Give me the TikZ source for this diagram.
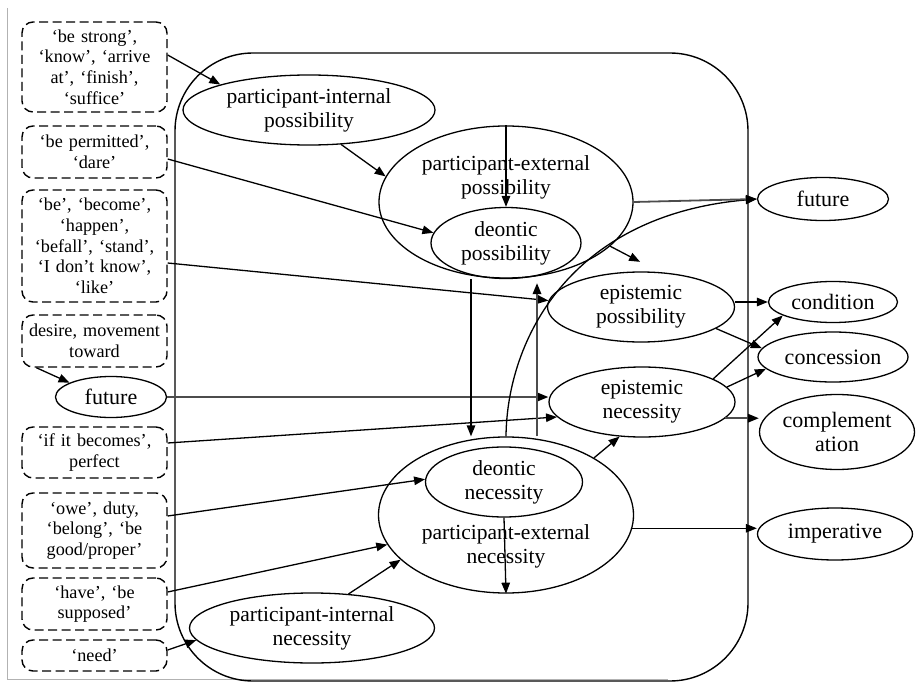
\documentclass[tikz,border=0pt]{standalone}
\usepackage{fontspec}
\setmainfont{Liberation Serif}
\usetikzlibrary{arrows.meta,shapes.geometric,calc}
\begin{document}
\begin{tikzpicture}[x=1pt,y=-1pt,
  arr/.style={line width=1.3pt,-{Triangle[length=11pt,width=8.5pt]}},
  garr/.style={draw=black!70,line width=1.8pt,-{Triangle[length=11pt,width=8.5pt,color=black]}},
  ell/.style={draw,ellipse,line width=1.3pt,inner sep=0pt,align=center,font=\fontsize{21.5}{24}\selectfont},
  etext/.style={inner sep=0pt,align=center,font=\fontsize{21.5}{24}\selectfont},
  rell/.style={draw,ellipse,line width=1.3pt,inner sep=0pt,align=center,font=\fontsize{22}{24}\selectfont},
  dbox/.style={draw,line width=1.4pt,dash pattern=on 9pt off 4.5pt,rounded corners=11pt,
    minimum width=145pt,text width=140pt,align=center,inner sep=0pt,
    font=\fontsize{18.2}{20.7}\selectfont}]
\useasboundingbox (0,0) rectangle (916,682);
% page frame
\draw[black!30,line width=1pt] (7,8) -- (7,679.5) -- (668,679.5);
% container
\draw[line width=1.4pt,rounded corners=78pt] (175,53) rectangle (748,681);
% left dashed boxes
\node[dbox,minimum height=90pt] (b1) at (94.5,67) {‘be strong’,\\ ‘know’, ‘arrive\\ at’, ‘finish’,\\ ‘suffice’};
\node[dbox,minimum height=52pt] (b2) at (94.5,152) {‘be permitted’,\\ ‘dare’};
\node[dbox,minimum height=112pt] (b3) at (94.5,246) {‘be’, ‘become’,\\ ‘happen’,\\ ‘befall’, ‘stand’,\\ ‘I don’t know’,\\ ‘like’};
\node[dbox,minimum height=52pt] (b4) at (94.5,341) {desire, movement\\ toward};
\node[dbox,minimum height=51pt] (b5) at (94.5,452.5) {‘if it becomes’,\\ perfect};
\node[dbox,minimum height=75pt] (b6) at (94.5,530.5) {‘owe’, duty,\\ ‘belong’, ‘be\\ good/proper’};
\node[dbox,minimum height=52pt] (b7) at (94.5,604) {‘have’, ‘be\\ supposed’};
\node[dbox,minimum height=31pt] (b8) at (94.5,655.5) {‘need’};
\node[rell,minimum width=111pt,minimum height=41pt] (futL) at (111,397) {future};
% central ellipses
\node[ell,minimum width=252pt,minimum height=70pt] (pip) at (309,110) {participant-internal\\possibility};
\node[ell,minimum width=254pt,minimum height=152pt] (pep) at (506,202) {};
\node[etext] (peptxt) at (506,177) {participant-external\\possibility};
\node[ell,minimum width=150pt,minimum height=71pt] (dp) at (506,243) {deontic\\possibility};
\node[ell,minimum width=187pt,minimum height=70pt] (epo) at (641,307) {epistemic\\possibility};
\node[ell,minimum width=186pt,minimum height=70pt] (en) at (642,402) {epistemic\\necessity};
\node[ell,minimum width=255pt,minimum height=156pt] (pen) at (506,515) {};
\node[etext] (pentxt) at (506,546) {participant-external\\necessity};
\node[ell,minimum width=157pt,minimum height=70pt] (dn) at (504,482) {deontic\\necessity};
\node[ell,minimum width=245pt,minimum height=70pt] (pin) at (312,628) {participant-internal\\necessity};
% right ellipses
\node[rell,minimum width=131pt,minimum height=43pt] (fut) at (823,199) {future};
\node[rell,minimum width=129pt,minimum height=41pt] (cond) at (833,302) {condition};
\node[rell,minimum width=150pt,minimum height=50pt] (conc) at (833,357) {concession};
\node[rell,minimum width=155pt,minimum height=75pt] (comp) at (837,432) {complement\\ation};
\node[rell,minimum width=155pt,minimum height=52pt] (imp) at (835,534) {imperative};
% helper coordinates
\coordinate (y55) at (0,55);
\coordinate (y159) at (0,159);
\coordinate (y263) at (0,263);
\coordinate (y443) at (0,443);
\coordinate (y516) at (0,516);
\coordinate (y592) at (0,592);
\coordinate (y650) at (0,650);
\coordinate (x471) at (471,0);
\coordinate (x537) at (537,0);
% connectors
\draw[arr] (b1.east |- y55) -- (pip.164);
\draw[arr] (pip.-47) -- (pep.168);
\draw[arr] (b2.east |- y159) -- (dp.172);
\draw[arr] (pep.north) -- (dp.north);
\draw[arr] (b3.east |- y263) -- (epo.176);
\draw[arr] ($(b4.south west)+(15,0)$) -- (futL.161);
\draw[garr] (futL.east) -- (futL.east -| en.west);
\draw[arr] (b5.east |- y443) -- (en.190);
\draw[arr] (b6.east |- y516) -- (dn.178);
\draw[arr] (b7.east |- y592) -- (pen.194);
\draw[arr] (b8.east |- y650) -- (pin.186);
\draw[arr] (pin.43) -- (pen.203);
\draw[arr] (dn.south) -- (pen.south);
\draw[arr] (dp.south -| x471) -- (pen.north -| x471);
\draw[garr,shorten >=4pt] (pen.north -| x537) -- (dp.south -| x537);
\draw[arr] (pen.north) .. controls (507,340) and (570,215) .. (fut.west);
\draw[garr] (pep.east) -- (fut.west);
\draw[arr,shorten >=22pt] (pep.-23) -- (epo.62);
\draw[arr] (epo.east |- cond.west) -- (cond.west);
\draw[arr] (epo.-16) -- (conc.173);
\draw[arr] (en.18) -- (cond.195);
\draw[arr] (en.10) -- (conc.190);
\draw[garr] (en.-11) -- (comp.west |- en.-11);
\draw[arr] (pen.-6) -- (imp.west |- pen.-6);
\draw[arr] (pen.33) -- (en.237);
\end{tikzpicture}
\end{document}
